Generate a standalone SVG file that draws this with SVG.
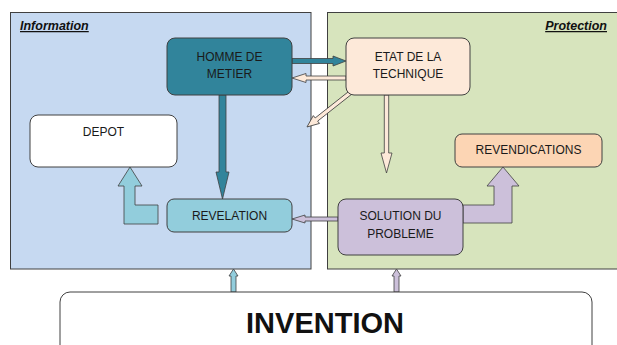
<svg xmlns="http://www.w3.org/2000/svg" width="617" height="345" viewBox="0 0 617 345">
<style>
.panel{stroke:#404040;stroke-width:1}
.box{stroke:#404040;stroke-width:1}
.arr{stroke:#404040;stroke-width:0.8;stroke-linejoin:miter}
.t{font-family:"Liberation Sans",Arial,sans-serif;font-size:12px;fill:#1a1a1a;text-anchor:middle}
.title{font-family:"Liberation Sans",Arial,sans-serif;font-size:12.5px;font-weight:bold;font-style:italic;text-decoration:underline;fill:#111}
</style>
<rect width="617" height="345" fill="#ffffff"/>
<g id="panel-information">
<rect class="panel" x="10.5" y="12.5" width="300.5" height="256.5" fill="#c6d9f1"/>
<text class="title" x="20" y="30">Information</text>
</g>
<g id="panel-protection">
<rect class="panel" x="327.5" y="12.5" width="292" height="256.5" fill="#d7e4bd"/>
<text class="title" x="607" y="30" text-anchor="end">Protection</text>
</g>
<g id="connectors">
<polygon class="arr" fill="#31849b" points="292,58.5 333,58.5 333,56 346,61 333,66 333,63.5 292,63.5"/>
<polygon class="arr" fill="#fde9d9" points="346,76 306,76 306,73.5 292,78 306,82.5 306,80 346,80"/>
<polygon class="arr" fill="#fde9d9" transform="translate(350,93) rotate(141.7)" points="0,-2 42.8,-2 42.8,-5 54.8,0 42.8,5 42.8,2 0,2"/>
<polygon class="arr" fill="#fde9d9" points="384.3,95 388.7,95 388.7,153 392,153 386.5,173 381,153 384.3,153"/>
<polygon class="arr" fill="#31849b" points="219,95 226,95 226,172 229,172 222.5,199 216,172 219,172"/>
<polygon class="arr" fill="#ccc0da" points="338,217 305,217 305,215 292,219 305,223 305,221 338,221"/>
<polygon class="arr" fill="#ccc0da" points="463,205 494,205 494,186 487,186 503,167 519,186 512,186 512,223 463,223"/>
<polygon class="arr" fill="#92cddc" points="158,205 135,205 135,186 142,186 130,167 118,186 124,186 124,224 158,224"/>
<polygon class="arr" fill="#92cddc" points="231,292 231,276 229,276 233.5,269 238,276 236,276 236,292"/>
<polygon class="arr" fill="#ccc0da" points="394,292 394,276 392,276 396.5,269 401,276 399,276 399,292"/>
</g>
<g id="node-homme">
<rect class="box" x="167" y="38" width="125" height="57" rx="8" fill="#31849b"/>
<text class="t" x="229.5" y="61">HOMME DE</text>
<text class="t" x="229.5" y="78">METIER</text>
</g>
<g id="node-etat">
<rect class="box" x="346" y="38" width="124" height="57" rx="8" fill="#fde9d9"/>
<text class="t" x="408" y="61">ETAT DE LA</text>
<text class="t" x="408" y="78">TECHNIQUE</text>
</g>
<g id="node-depot">
<rect class="box" x="30" y="115" width="147" height="52" rx="8" fill="#ffffff"/>
<text class="t" x="103.5" y="136">DEPOT</text>
</g>
<g id="node-revelation">
<rect class="box" x="167" y="199" width="125" height="33" rx="7" fill="#92cddc"/>
<text class="t" x="229.5" y="220">REVELATION</text>
</g>
<g id="node-solution">
<rect class="box" x="338" y="199" width="125" height="56" rx="8" fill="#ccc0da"/>
<text class="t" x="400.5" y="220">SOLUTION DU</text>
<text class="t" x="400.5" y="238">PROBLEME</text>
</g>
<g id="node-revendications">
<rect class="box" x="455" y="134" width="147" height="33" rx="7" fill="#fcd5b4"/>
<text class="t" x="528.5" y="154">REVENDICATIONS</text>
</g>
<g id="node-invention">
<rect class="box" x="60" y="292" width="532" height="70" rx="10" fill="#ffffff"/>
<text x="325" y="333" font-family="'Liberation Sans',Arial,sans-serif" font-size="29" font-weight="bold" fill="#111" text-anchor="middle">INVENTION</text>
</g>
</svg>
